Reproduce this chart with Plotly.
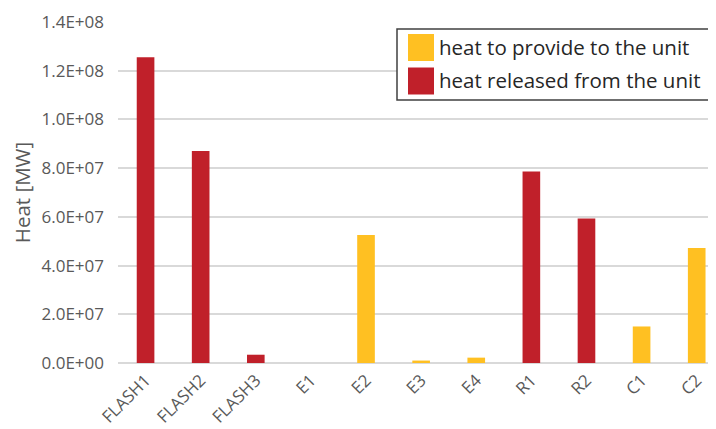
import plotly.graph_objects as go

categories = ["FLASH1", "FLASH2", "FLASH3", "E1", "E2", "E3", "E4", "R1", "R2", "C1", "C2"]
heat_provided = [None, None, None, 0, 5.26e7, 1.0e6, 2.2e6, None, None, 1.5e7, 4.72e7]
heat_released = [1.255e8, 8.70e7, 3.4e6, None, None, None, None, 7.86e7, 5.93e7, None, None]
y_tickvals = [0, 2e7, 4e7, 6e7, 8e7, 1e8, 1.2e8, 1.4e8]
y_ticktext = ["0.0E+00", "2.0E+07", "4.0E+07", "6.0E+07", "8.0E+07", "1.0E+08", "1.2E+08", "1.4E+08"]
legend_labels = ["heat to provide to the unit", "heat released from the unit"]

YELLOW = "#FFC022"
RED = "#C0202A"
FONT = "Open Sans, Lato, sans-serif"
GRAY = "#595959"

fig = go.Figure()
fig.add_trace(go.Bar(x=categories, y=heat_provided, name=legend_labels[0],
                     marker=dict(color=YELLOW, line=dict(width=0)),
                     width=0.32, showlegend=False))
fig.add_trace(go.Bar(x=categories, y=heat_released, name=legend_labels[1],
                     marker=dict(color=RED, line=dict(width=0)),
                     width=0.32, showlegend=False))

# page body has an 8px margin: shift everything by -8
OFF = 8
W, H = 716 - OFF, 429 - OFF
ml, mr, mt, mb = 118 - OFF, 0, 22 - OFF, 66
pw, ph = W - ml - mr, H - mt - mb


def px2paper(x, y):
    return (x - OFF - ml) / pw, 1 - (y - OFF - mt) / ph


# custom legend
L, R_, T, B = 397, 713, 29, 100
x0, y0 = px2paper(L, B)
x1, y1 = px2paper(R_, T)
fig.add_shape(type="rect", xref="paper", yref="paper", x0=x0, x1=x1, y0=y0, y1=y1,
              line=dict(color="#404040", width=1.5), fillcolor="white")
for i, (col, lab) in enumerate(zip([YELLOW, RED], legend_labels)):
    top = 34 + i * 33.5
    a0, b0 = px2paper(408, top + 27)
    a1, b1 = px2paper(434, top)
    fig.add_shape(type="rect", xref="paper", yref="paper", x0=a0, x1=a1, y0=b0, y1=b1,
                  line=dict(width=0), fillcolor=col)
    tx, ty = px2paper(437, top + 13)
    fig.add_annotation(x=tx, y=ty, xref="paper", yref="paper", text=lab, showarrow=False,
                       xanchor="left", yanchor="middle",
                       font=dict(family=FONT, size=20.5, color="#262626"))

fig.update_layout(
    width=W, height=H,
    margin=dict(l=ml, r=mr, t=mt, b=mb, autoexpand=False),
    paper_bgcolor="white", plot_bgcolor="white",
    barmode="overlay",
    font=dict(family=FONT, color=GRAY, size=15),
    xaxis=dict(range=[-0.5, 10.35], tickangle=-45, showgrid=False, showline=False,
               ticks="", automargin=False, ticklabelstandoff=3,
               tickfont=dict(size=17, color=GRAY)),
    yaxis=dict(range=[0, 1.4002e8], tickvals=y_tickvals, ticktext=y_ticktext,
               showgrid=True, gridcolor="#D9D9D9", gridwidth=1.5,
               zeroline=True, zerolinecolor="#D9D9D9", zerolinewidth=1.5,
               showline=False, ticks="", ticklen=0, automargin=False,
               ticklabelstandoff=13,
               tickfont=dict(size=17, color=GRAY),
               title=dict(text="Heat [MW]", font=dict(size=20.5, color=GRAY), standoff=13)),
)

fig.write_html("out.html")
